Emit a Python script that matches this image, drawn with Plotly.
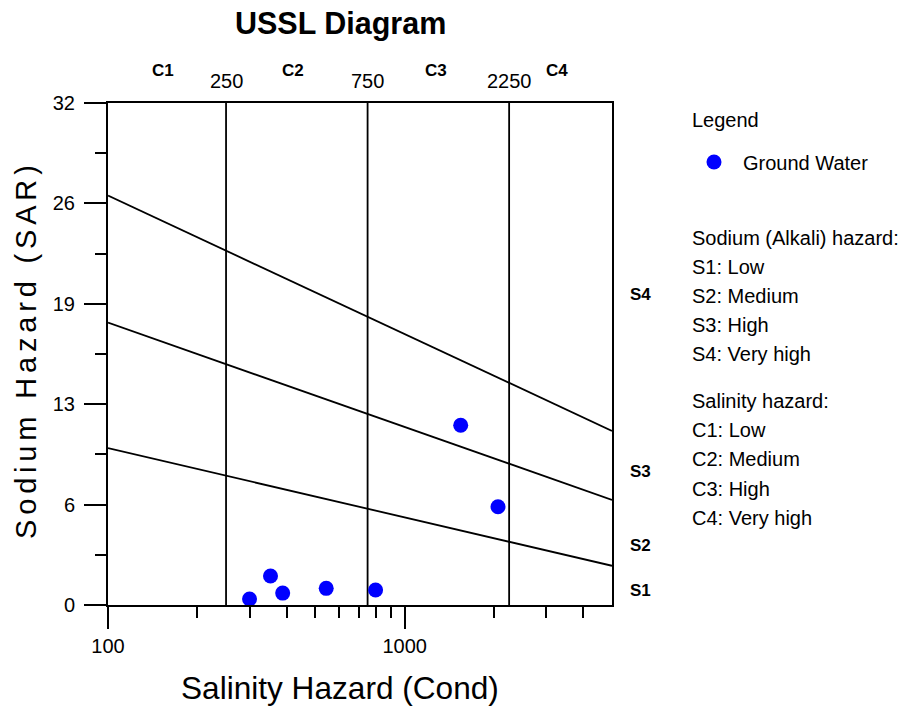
import math
import plotly.graph_objects as go

# ---- data ----
cond = [300, 353, 388, 544, 798, 1545, 2064]
sar = [0.38, 1.85, 0.76, 1.06, 0.96, 11.46, 6.26]

line_x = [100, 5000]
s1_s2 = [10.0, 2.5]
s2_s3 = [18.0, 6.7]
s3_s4 = [26.1, 11.1]

c_bounds = [250, 750, 2250]
c_bound_y = [0, 32]

y_tickvals = [0, 6.4, 12.8, 19.2, 25.6, 32]
y_ticktext = ["0", "6", "13", "19", "26", "32"]
x_tickvals = [100, 1000]
x_minor = [200, 300, 400, 500, 600, 700, 800, 900, 2000, 3000, 4000]

c_labels = ["C1", "C2", "C3", "C4"]
c_label_x = [153, 421, 1278, 3275]
s_labels = ["S4", "S3", "S2", "S1"]
s_label_y = [19.8, 8.5, 3.8, 0.9]

legend_lines = [
    ("Sodium (Alkali) hazard:", 238), ("S1: Low", 267), ("S2: Medium", 296),
    ("S3: High", 325), ("S4: Very high", 354),
    ("Salinity hazard:", 401), ("C1: Low", 430), ("C2: Medium", 459),
    ("C3: High", 489), ("C4: Very high", 518),
]

FONT = "Liberation Sans, Arial, sans-serif"
L, R, T, B = 108, 612, 103, 605


def px(x):
    return (x - L) / (R - L)


def py(y):
    return (B - y) / (B - T)


fig = go.Figure()

for yy in (s1_s2, s2_s3, s3_s4):
    fig.add_trace(go.Scatter(x=line_x, y=yy, mode="lines",
                             line=dict(color="black", width=1.8),
                             showlegend=False, hoverinfo="skip"))
for cx in c_bounds:
    fig.add_trace(go.Scatter(x=[cx, cx], y=c_bound_y, mode="lines",
                             line=dict(color="black", width=1.8),
                             showlegend=False, hoverinfo="skip"))

fig.add_trace(go.Scatter(x=cond, y=sar, mode="markers", name="Ground Water",
                         marker=dict(color="#0000ff", size=15)))


def A(text, x, y, xref="paper", yref="paper", size=20, xanchor="center", angle=0):
    return dict(text=text, x=x, y=y, xref=xref, yref=yref, xanchor=xanchor,
                yanchor="middle", textangle=angle, showarrow=False,
                font=dict(size=size, family=FONT, color="black"))


ann = []
ann.append(A("<b>USSL Diagram</b>", px(340), py(24), size=30.5))
for t, cx in zip(c_labels, c_label_x):
    ann.append(A("<b>%s</b>" % t, math.log10(cx), py(70), xref="x", size=17))
for cx in c_bounds:
    ann.append(A(str(cx), math.log10(cx), py(81), xref="x", size=20))
for t, sy in zip(s_labels, s_label_y):
    ann.append(A("<b>%s</b>" % t, px(640), sy, yref="y", size=17))
ann.append(A("Salinity Hazard (Cond)", px(340), py(688), size=31.6))
ann.append(A("\u2006".join("Sodium Hazard (SAR)"), px(26), py(352), size=29, angle=-90))
ann.append(A("Legend", px(690), py(120), xanchor="left", size=20))
for t, yy in legend_lines:
    ann.append(A(t, px(690), py(yy), xanchor="left", size=20))

fig.update_layout(
    width=911, height=708,
    margin=dict(l=L, r=911 - R, t=T, b=708 - B, autoexpand=False),
    paper_bgcolor="white", plot_bgcolor="white",
    font=dict(family=FONT, size=20, color="black"),
    showlegend=True,
    legend=dict(x=px(685), y=py(162), xanchor="left", yanchor="middle",
                xref="paper", yref="paper", bgcolor="rgba(0,0,0,0)",
                font=dict(size=20, family=FONT, color="black"), itemwidth=48),
    annotations=ann,
    xaxis=dict(type="log", range=[2, 3.69897], showgrid=False, zeroline=False,
               showline=True, linecolor="black", linewidth=2, mirror=True,
               tickmode="array", tickvals=x_tickvals, ticktext=["100", "1000"],
               ticks="outside", ticklen=22, tickwidth=2, tickcolor="black",
               tickfont=dict(size=20, family=FONT, color="black"),
               minor=dict(tickmode="array", tickvals=x_minor, ticks="outside",
                          ticklen=11, tickwidth=2, tickcolor="black", showgrid=False)),
    yaxis=dict(range=[0, 32], showgrid=False, zeroline=False,
               showline=True, linecolor="black", linewidth=2, mirror=True,
               tickmode="array", tickvals=y_tickvals, ticktext=y_ticktext,
               ticks="outside", ticklen=22, tickwidth=2, tickcolor="black",
               tickfont=dict(size=20, family=FONT, color="black"), ticklabelstandoff=5,
               minor=dict(tickmode="linear", tick0=3.2, dtick=6.4, ticks="outside",
                          ticklen=11, tickwidth=2, tickcolor="black", showgrid=False)),
)

fig.write_html("out.html", config={"displayModeBar": False},
               post_script="document.body.style.margin='0px';")
